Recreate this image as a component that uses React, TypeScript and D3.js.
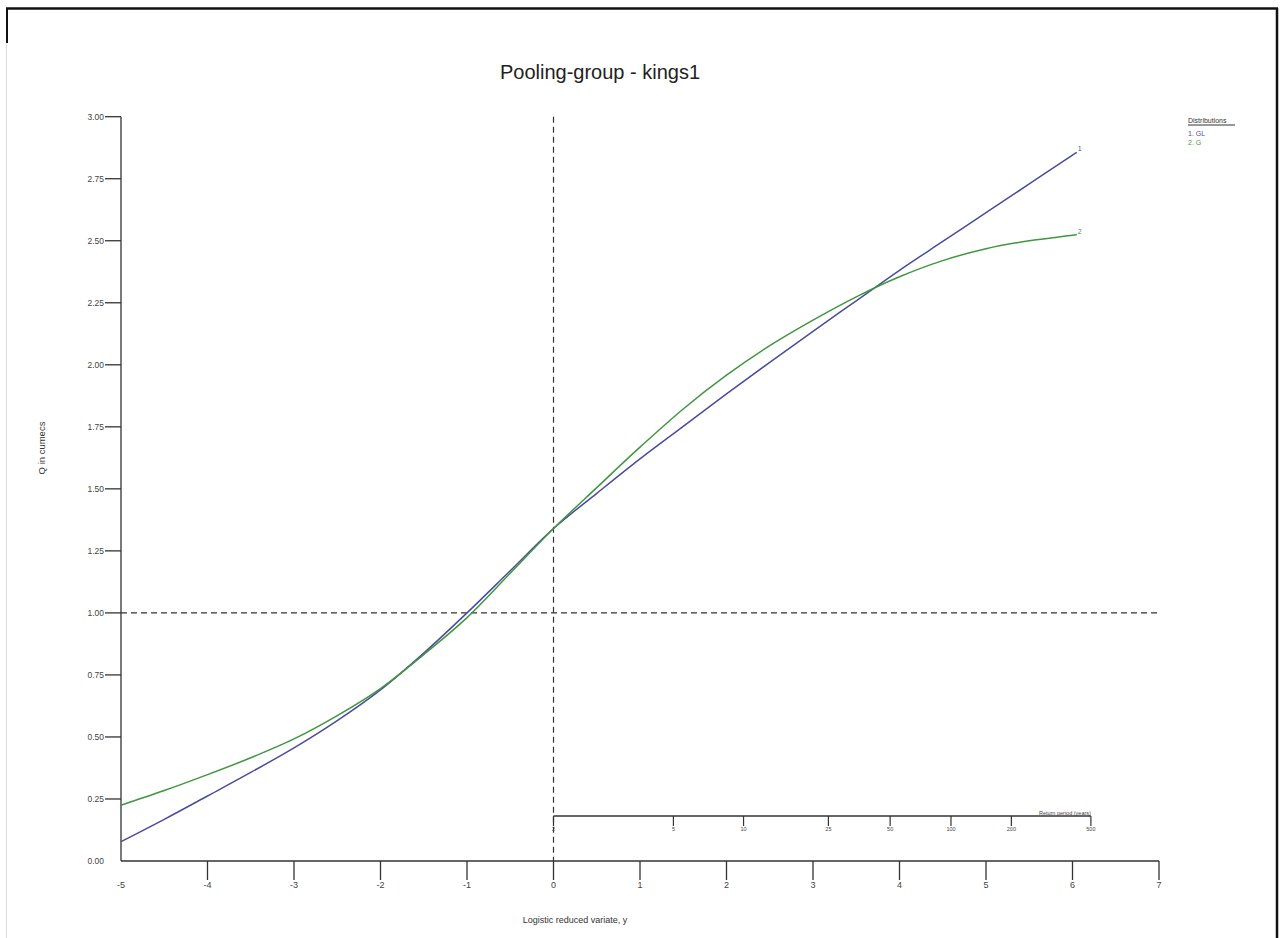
import React from "react";
import * as d3 from "d3";

const TITLE = "Pooling-group - kings1";
const reducedVariate = [-5, -4.5, -4, -3.5, -3, -2.5, -2, -1.5, -1, -0.5, 0, 0.5, 1, 1.5, 2, 2.5, 3, 3.5, 4, 4.5, 5, 5.5, 6, 6.05];
const glValues = [0.078, 0.168, 0.262, 0.357, 0.456, 0.566, 0.690, 0.838, 1.0, 1.170, 1.340, 1.482, 1.621, 1.752, 1.883, 2.010, 2.135, 2.258, 2.381, 2.497, 2.613, 2.729, 2.845, 2.856];
const gValues = [0.225, 0.284, 0.348, 0.416, 0.492, 0.586, 0.695, 0.832, 0.981, 1.160, 1.340, 1.505, 1.668, 1.822, 1.958, 2.077, 2.180, 2.274, 2.355, 2.420, 2.468, 2.500, 2.522, 2.525];
const xTicks = [-5, -4, -3, -2, -1, 0, 1, 2, 3, 4, 5, 6, 7];
const yTicks = [0, 0.25, 0.5, 0.75, 1.0, 1.25, 1.5, 1.75, 2.0, 2.25, 2.5, 2.75, 3.0];
const returnPeriods = [2, 5, 10, 25, 50, 100, 200, 500];
const seriesNames = ["1. GL", "2. G"];
const seriesColors = ["#4b4b9e", "#3f963f"];

export default function App() {
  const x = d3.scaleLinear().domain([-5, 7]).range([121, 1159]);
  const y = d3.scaleLinear().domain([0, 3]).range([861, 116.7]);
  const rp = (T: number) => x(Math.log(T - 1));
  const line = d3
    .line<[number, number]>()
    .x((d) => x(d[0]))
    .y((d) => y(d[1]))
    .curve(d3.curveCatmullRom.alpha(0.5));
  const series = [glValues, gValues].map((vals) =>
    reducedVariate.map((v, i) => [v, vals[i]] as [number, number])
  );
  const font = "Liberation Sans, Arial, sans-serif";
  const axisColor = "#333";
  const textColor = "#444";
  const rpY = 816;
  const lastX = reducedVariate[reducedVariate.length - 1];

  return (
    <svg
      width={1284}
      height={938}
      style={{ position: "absolute", left: 0, top: 0, background: "#fff" }}
      fontFamily={font}
    >
      {/* frame */}
      <line x1={6} x2={1278} y1={8.5} y2={8.5} stroke="#111" strokeWidth={2.5} />
      <line x1={7} x2={7} y1={8} y2={43} stroke="#111" strokeWidth={2} />
      <line x1={6.5} x2={6.5} y1={43} y2={938} stroke="#ddd" strokeWidth={1} />
      <line x1={1277} x2={1277} y1={8} y2={938} stroke="#111" strokeWidth={2.5} />

      <text x={600} y={79} textAnchor="middle" fontSize={20} fill="#222">
        {TITLE}
      </text>

      {/* axes */}
      <line x1={121} x2={121} y1={y(3)} y2={y(0)} stroke={axisColor} strokeWidth={1.3} />
      <line x1={121} x2={1159} y1={y(0)} y2={y(0)} stroke={axisColor} strokeWidth={1.3} />
      {yTicks.map((t) => (
        <g key={"y" + t}>
          {t > 0 && (
            <line x1={105} x2={121} y1={y(t)} y2={y(t)} stroke={axisColor} strokeWidth={1.3} />
          )}
          <text x={104} y={y(t) + 3} textAnchor="end" fontSize={8.5} fill={textColor}>
            {t.toFixed(2)}
          </text>
        </g>
      ))}
      {xTicks.map((t) => (
        <g key={"x" + t}>
          {t > -5 && (
            <line x1={x(t)} x2={x(t)} y1={y(0)} y2={y(0) + 19} stroke={axisColor} strokeWidth={1.3} />
          )}
          <text x={x(t)} y={888} textAnchor="middle" fontSize={9} fill={textColor}>
            {t}
          </text>
        </g>
      ))}
      <text x={575} y={923} textAnchor="middle" fontSize={9} fill="#333">
        Logistic reduced variate, y
      </text>
      <text
        transform={`translate(45,448) rotate(-90)`}
        textAnchor="middle"
        fontSize={9.5}
        fill="#333"
      >
        Q in cumecs
      </text>

      {/* reference dashed lines */}
      <line x1={x(0)} x2={x(0)} y1={y(3)} y2={y(0)} stroke="#333" strokeWidth={1.2} strokeDasharray="6,4" />
      <line x1={121} x2={1159} y1={y(1)} y2={y(1)} stroke="#333" strokeWidth={1.2} strokeDasharray="6,4" />

      {/* return period axis */}
      <line x1={rp(2)} x2={rp(500)} y1={rpY} y2={rpY} stroke={axisColor} strokeWidth={1.3} />
      {returnPeriods.map((T) => (
        <g key={"rp" + T}>
          <line x1={rp(T)} x2={rp(T)} y1={rpY} y2={rpY + 10} stroke={axisColor} strokeWidth={1.2} />
          <text x={rp(T)} y={rpY + 15} textAnchor="middle" fontSize={5.5} fill={textColor}>
            {T}
          </text>
        </g>
      ))}
      <text x={rp(500)} y={rpY - 1.5} textAnchor="end" fontSize={5.5} fill={textColor}>
        Return period (years)
      </text>

      {/* curves */}
      {series.map((s, i) => (
        <g key={"s" + i}>
          <path d={line(s) || ""} fill="none" stroke={seriesColors[i]} strokeWidth={1.5} />
          <text
            x={x(lastX) + 1}
            y={y(s[s.length - 1][1]) - 1}
            fontSize={7}
            fill={seriesColors[i]}
          >
            {i + 1}
          </text>
        </g>
      ))}

      {/* legend */}
      <text x={1188} y={123} fontSize={7} fill="#333">
        Distributions
      </text>
      <line x1={1188} x2={1235} y1={125} y2={125} stroke="#333" strokeWidth={1} />
      {seriesNames.map((n, i) => (
        <text key={n} x={1188} y={136 + i * 9} fontSize={7} fill={seriesColors[i]}>
          {n}
        </text>
      ))}
    </svg>
  );
}
